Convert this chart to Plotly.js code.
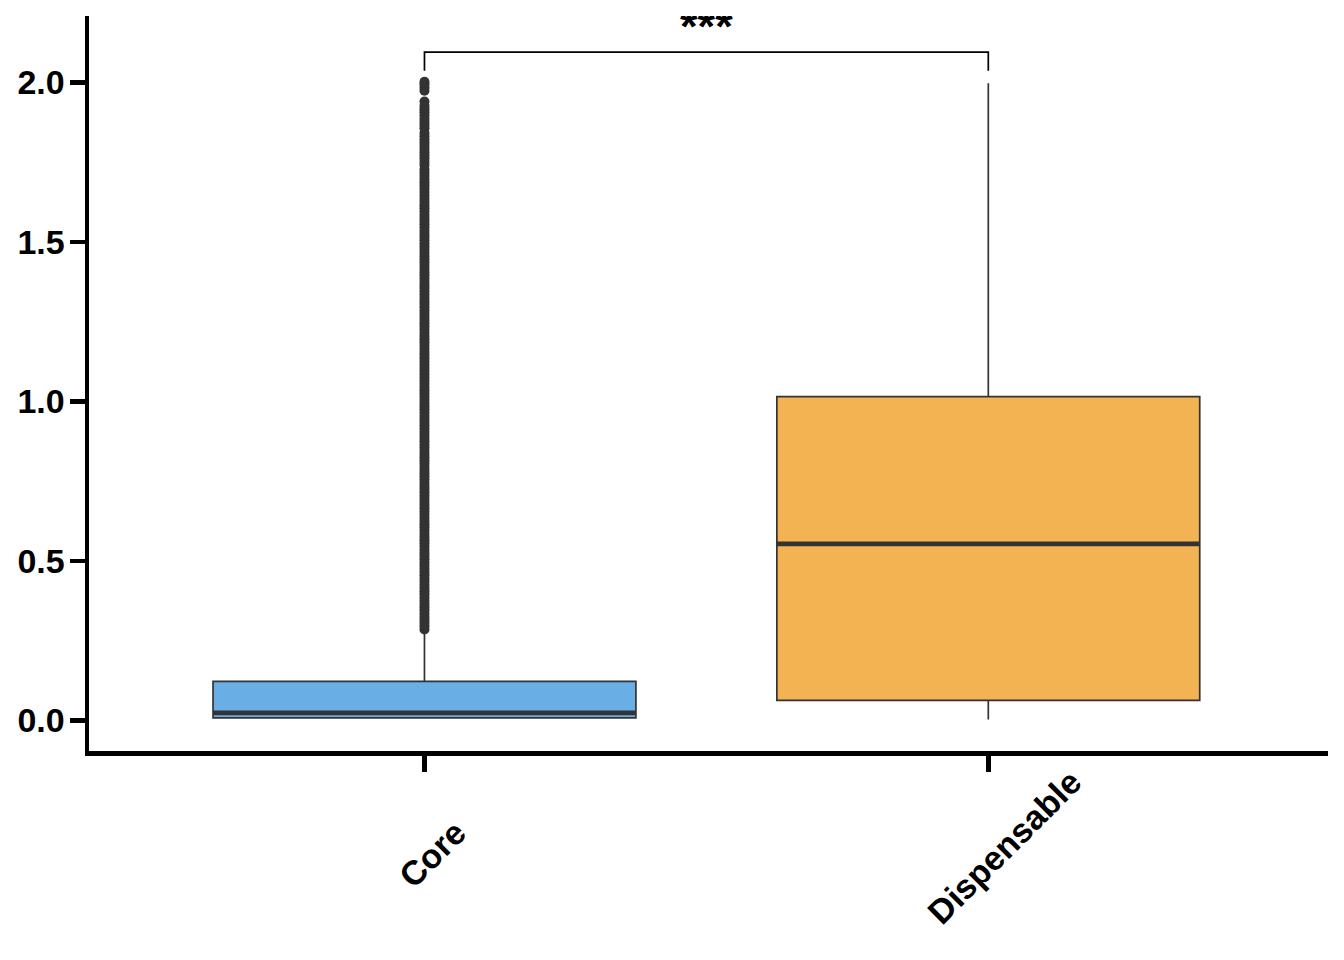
<!DOCTYPE html>
<html>
<head>
<meta charset="utf-8">
<script src="https://cdn.plot.ly/plotly-3.0.1.min.js"></script>
<style>html,body{margin:0;padding:0;background:#fff;}#chart{width:1344px;height:960px;}</style>
</head>
<body>
<div id="chart"></div>
<script>
// ---- data ----
const categories = ['Core', 'Dispensable'];
const q1Values = [0.008, 0.063];
const medianValues = [0.0235, 0.553];
const q3Values = [0.1225, 1.015];
const lowerFenceValues = [0.006, 0.003];
const upperFenceValues = [0.276, 1.997];
const boxColors = ['#69AEE5', '#F4B353'];
// Core outliers (dense column of points above the upper whisker)
const coreOutliers = [
  0.285, 0.295, 0.305, 0.315, 0.325, 0.335, 0.345, 0.355, 0.365, 0.375,
  0.385, 0.395, 0.405, 0.415, 0.425, 0.435, 0.445, 0.455, 0.465, 0.475,
  0.485, 0.495, 0.505, 0.515, 0.525, 0.535, 0.545, 0.555, 0.565, 0.575,
  0.585, 0.595, 0.605, 0.615, 0.625, 0.635, 0.645, 0.655, 0.665, 0.675,
  0.685, 0.695, 0.705, 0.715, 0.725, 0.735, 0.745, 0.755, 0.765, 0.775,
  0.785, 0.795, 0.805, 0.815, 0.825, 0.835, 0.845, 0.855, 0.865, 0.875,
  0.885, 0.895, 0.905, 0.915, 0.925, 0.935, 0.945, 0.955, 0.965, 0.975,
  0.985, 0.995, 1.005, 1.015, 1.025, 1.035, 1.045, 1.055, 1.065, 1.075,
  1.085, 1.095, 1.105, 1.115, 1.125, 1.135, 1.145, 1.155, 1.165, 1.175,
  1.185, 1.195, 1.205, 1.215, 1.225, 1.235, 1.245, 1.255, 1.265, 1.275,
  1.285, 1.295, 1.305, 1.315, 1.325, 1.335, 1.345, 1.355, 1.365, 1.375,
  1.385, 1.395, 1.405, 1.415, 1.425, 1.435, 1.445, 1.455, 1.465, 1.475,
  1.485, 1.495, 1.505, 1.515, 1.525, 1.535, 1.545, 1.555, 1.565, 1.575,
  1.585, 1.595, 1.605, 1.615, 1.625, 1.635, 1.645, 1.656, 1.667, 1.677,
  1.687, 1.697, 1.707, 1.717, 1.727, 1.741, 1.751, 1.761, 1.771, 1.781,
  1.791, 1.801, 1.811, 1.821, 1.831, 1.841, 1.856, 1.866, 1.876, 1.886,
  1.896, 1.906, 1.916, 1.926, 1.940, 1.974, 1.984, 1.994, 2.002
];
const yTickValues = [0, 0.5, 1.0, 1.5, 2.0];
const yTickLabels = ['0.0', '0.5', '1.0', '1.5', '2.0'];
const significanceLabel = '***';
const comparedGroups = [0, 1];

// ---- styling / layout constants ----
const BOX_WIDTH = 0.75;
const OUTLINE = '#333333';
const FONT = 'Liberation Sans, Arial, Helvetica, sans-serif';
const LABEL_SIZE = 34;
const bracketTop = 2.095, bracketLeg = 2.036, starY = 2.162;

const traces = [];
categories.forEach((cat, i) => {
  traces.push({
    type: 'box',
    name: cat,
    x: [i],
    q1: [q1Values[i]],
    median: [medianValues[i]],
    q3: [q3Values[i]],
    lowerfence: [lowerFenceValues[i]],
    upperfence: [upperFenceValues[i]],
    boxpoints: false,
    width: BOX_WIDTH,
    whiskerwidth: 0,
    fillcolor: boxColors[i],
    line: { color: OUTLINE, width: 1.7 },
    hoverinfo: 'skip',
    showlegend: false
  });
});
traces.push({
  type: 'scatter',
  mode: 'markers',
  x: coreOutliers.map(() => categories.indexOf('Core')),
  y: coreOutliers,
  marker: { size: 10, color: OUTLINE, line: { width: 0 } },
  hoverinfo: 'skip',
  showlegend: false
});
traces.push({
  type: 'scatter',
  mode: 'text',
  x: [(comparedGroups[0] + comparedGroups[1]) / 2],
  y: [starY],
  text: [significanceLabel],
  textposition: 'middle center',
  textfont: { family: FONT, size: 45, color: '#000000', weight: 'bold' },
  cliponaxis: true,
  hoverinfo: 'skip',
  showlegend: false
});

const shapes = [];
categories.forEach((cat, i) => {
  shapes.push({
    type: 'line', xref: 'x', yref: 'y',
    x0: i - BOX_WIDTH / 2, x1: i + BOX_WIDTH / 2,
    y0: medianValues[i], y1: medianValues[i],
    line: { color: OUTLINE, width: 4.7 }
  });
});
shapes.push({
  type: 'path', xref: 'x', yref: 'y',
  path: 'M ' + comparedGroups[0] + ',' + bracketLeg + ' L ' + comparedGroups[0] + ',' + bracketTop +
        ' L ' + comparedGroups[1] + ',' + bracketTop + ' L ' + comparedGroups[1] + ',' + bracketLeg,
  line: { color: '#000000', width: 1.7 }
});

// measure label widths to mimic ggplot-style rotated label anchoring
const cv = document.createElement('canvas').getContext('2d');
cv.font = 'bold ' + LABEL_SIZE + 'px "Liberation Sans", Arial, sans-serif';
const M = { l: 88.75, r: 16, t: 16, b: 208.5 };
const plotBottom = 960 - M.b, plotH = plotBottom - M.t;
const anchorPx = 860;
const annotations = categories.map((cat, i) => {
  const w = cv.measureText(cat).width;
  const d = (0.5 - 0.41) * w * Math.SQRT1_2;
  return {
    x: i, xref: 'x',
    y: (plotBottom - anchorPx) / plotH, yref: 'paper',
    xshift: 3 + d, yshift: d,
    text: cat, showarrow: false, textangle: -45,
    xanchor: 'center', yanchor: 'middle',
    font: { family: FONT, size: LABEL_SIZE, color: '#000000', weight: 'bold' }
  };
});

const layout = {
  width: 1344, height: 960,
  margin: { l: M.l, r: M.r, t: M.t, b: M.b, pad: 0 },
  paper_bgcolor: '#ffffff', plot_bgcolor: '#ffffff',
  showlegend: false,
  xaxis: {
    range: [-0.595, 1.6025],
    tickvals: categories.map((c, i) => i),
    ticktext: categories,
    showticklabels: false,
    ticks: 'outside', ticklen: 16, tickwidth: 4.5, tickcolor: '#000000',
    showline: true, linecolor: '#000000', linewidth: 4.5,
    showgrid: false, zeroline: false, fixedrange: true
  },
  yaxis: {
    range: [-0.096, 2.208],
    tickvals: yTickValues, ticktext: yTickLabels,
    ticks: 'outside', ticklen: 15, tickwidth: 4.5, tickcolor: '#000000',
    ticklabelstandoff: -2,
    tickfont: { family: FONT, size: 34, color: '#000000', weight: 'bold' },
    showline: true, linecolor: '#000000', linewidth: 4.5,
    showgrid: false, zeroline: false, fixedrange: true
  },
  shapes: shapes,
  annotations: annotations
};

Plotly.newPlot('chart', traces, layout, { displayModeBar: false, staticPlot: true });
</script>
</body>
</html>
